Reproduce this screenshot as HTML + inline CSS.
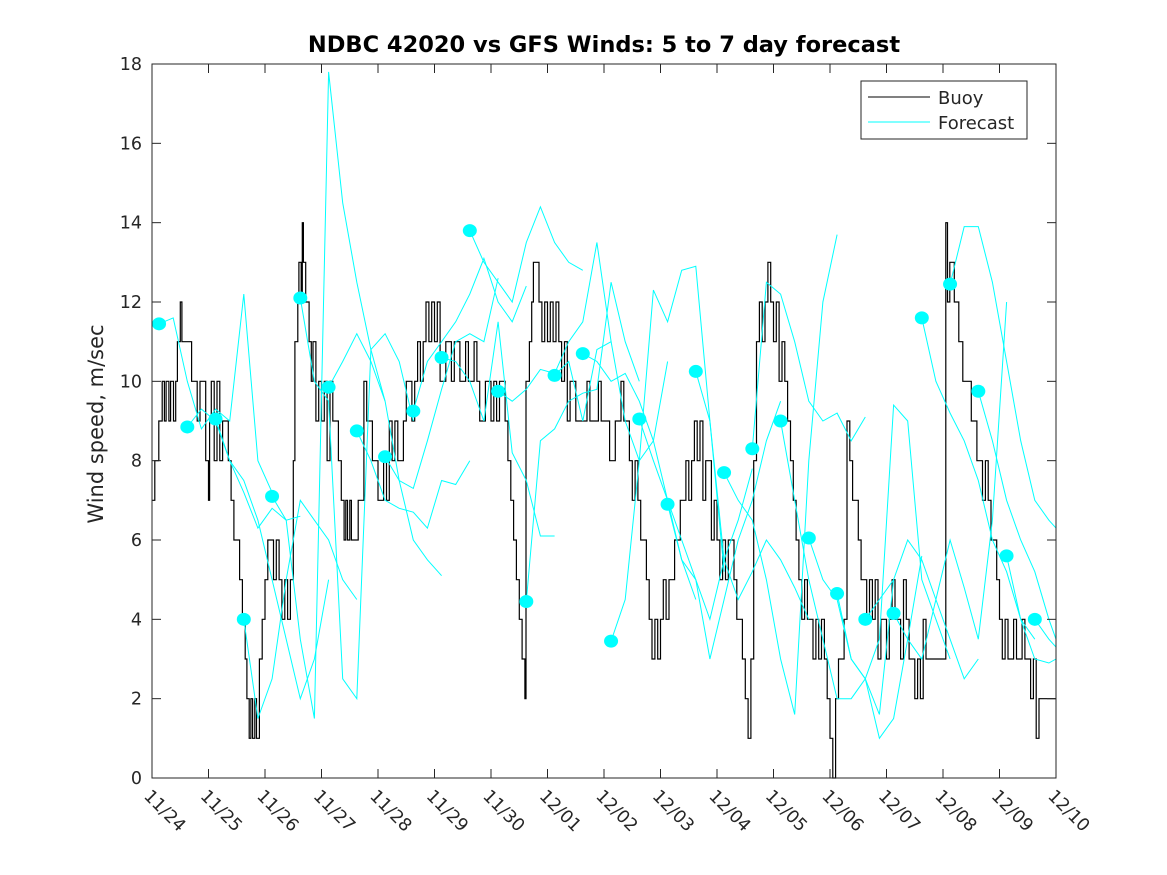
<!DOCTYPE html>
<html><head><meta charset="utf-8"><style>
body{margin:0;background:#fff;}
svg{display:block;font-family:"DejaVu Sans","Liberation Sans",sans-serif;}
</style></head><body>
<svg id="chart" width="1167" height="875" viewBox="0 0 1167 875" xmlns="http://www.w3.org/2000/svg">
<rect width="1167" height="875" fill="#fff"/>
<text x="604" y="52" text-anchor="middle" font-size="22.5" font-weight="bold" fill="#000">NDBC 42020 vs GFS Winds: 5 to 7 day forecast</text>
<text transform="translate(103,424) rotate(-90)" text-anchor="middle" font-size="21" fill="#262626">Wind speed, m/sec</text>
<g id="plot"></g>
<g id="axes"></g>
<g>
<rect x="861" y="81" width="166" height="58" fill="#fff" stroke="#262626" stroke-width="1"/>
<line x1="868" y1="97" x2="930" y2="97" stroke="#000" stroke-width="1"/>
<text x="938" y="104" font-size="18" fill="#262626">Buoy</text>
<line x1="868" y1="122" x2="930" y2="122" stroke="#00ffff" stroke-width="1"/>
<text x="938" y="129" font-size="18" fill="#262626">Forecast</text>
</g>
</svg>
<script>
const xTickLabels=["11/24","11/25","11/26","11/27","11/28","11/29","11/30","12/01","12/02","12/03","12/04","12/05","12/06","12/07","12/08","12/09","12/10"];
const yTicks=[0,2,4,6,8,10,12,14,16,18];
const buoyT=[0,.05,.12,.18,.22,.25,.3,.33,.38,.42,.45,.5,.53,.6,.7,.8,.85,.95,1.0,1.02,1.05,1.1,1.15,1.2,1.25,1.35,1.4,1.45,1.55,1.6,1.65,1.68,1.72,1.75,1.78,1.82,1.85,1.9,1.95,2.0,2.05,2.15,2.2,2.25,2.3,2.35,2.4,2.45,2.5,2.53,2.58,2.6,2.64,2.66,2.68,2.72,2.78,2.82,2.85,2.9,2.95,3.0,3.05,3.1,3.15,3.2,3.3,3.35,3.4,3.43,3.46,3.5,3.53,3.6,3.65,3.7,3.75,3.8,3.9,4.0,4.1,4.15,4.2,4.25,4.3,4.35,4.45,4.5,4.6,4.65,4.7,4.75,4.8,4.85,4.9,4.95,5.0,5.05,5.1,5.2,5.3,5.35,5.45,5.55,5.6,5.7,5.75,5.8,5.9,6.0,6.05,6.1,6.15,6.25,6.3,6.35,6.4,6.45,6.5,6.55,6.6,6.62,6.68,6.72,6.75,6.85,6.9,6.95,7.0,7.05,7.1,7.15,7.2,7.25,7.3,7.35,7.4,7.5,7.7,7.75,7.9,7.95,8.1,8.2,8.3,8.35,8.45,8.5,8.55,8.6,8.65,8.75,8.8,8.85,8.9,8.95,9.0,9.05,9.1,9.15,9.25,9.35,9.45,9.5,9.55,9.6,9.65,9.7,9.75,9.8,9.9,9.95,10.0,10.05,10.1,10.15,10.2,10.3,10.35,10.45,10.5,10.55,10.6,10.65,10.7,10.75,10.8,10.85,10.9,10.95,11.0,11.05,11.1,11.15,11.2,11.25,11.3,11.35,11.4,11.45,11.5,11.55,11.6,11.7,11.75,11.8,11.85,11.9,11.95,12.0,12.05,12.1,12.15,12.25,12.3,12.35,12.4,12.5,12.55,12.65,12.7,12.75,12.8,12.85,12.9,13.0,13.05,13.1,13.15,13.25,13.3,13.35,13.4,13.5,13.55,13.6,13.65,13.7,14.05,14.08,14.12,14.2,14.28,14.35,14.5,14.6,14.7,14.75,14.8,14.85,14.95,15.0,15.05,15.1,15.15,15.25,15.3,15.4,15.45,15.55,15.6,15.65,15.7,16.0];
const buoyV=[7,8,9,10,9,10,9,10,9,10,11,12,11,11,10,9,10,8,7,9,10,8,10,8,9,8,7,6,5,4,3,2,1,2,1,2,1,3,4,5,6,5,6,5,4,5,4,5,8,11,12,13,12,14,13,12,11,10,11,9,10,9,10,8,10,9,8,7,6,7,6,7,6,6,7,7,10,9,8,7,8,7,9,8,9,8,9,10,9,10,11,10,11,12,11,12,11,12,10,11,10,11,10,11,10,11,10,9,10,9,10,9,10,9,8,7,6,5,4,3,2,10,11,12,13,12,11,12,11,12,11,12,11,10,11,9,10,9,10,9,10,9,8,9,10,9,8,7,8,7,6,5,4,3,4,3,4,5,4,5,6,7,8,7,8,9,8,9,7,8,6,7,6,5,6,5,6,5,4,3,2,1,3,8,11,12,11,12,13,12,11,12,10,11,10,9,8,7,6,5,4,5,4,3,4,3,4,3,2,1,0,2,3,4,9,8,7,6,5,4,5,4,5,3,4,3,4,5,4,3,5,4,3,2,3,2,4,3,14,12,13,12,11,10,9,8,7,8,7,6,5,4,3,4,3,4,3,4,3,2,3,1,2,2];
const fcStart=[0.125,0.625,1.125,1.625,2.125,2.625,3.125,3.625,4.125,4.625,5.125,5.625,6.125,6.625,7.125,7.625,8.125,8.625,9.125,9.625,10.125,10.625,11.125,11.625,12.125,12.625,13.125,13.625,14.125,14.625,15.125,15.625];
const fcVals=[
[11.45,11.6,10.0,8.8,9.3,9.0,12.2,8.0,7.2],
[8.85,9.3,9.0,8.0,7.2,6.3,6.8,6.5,6.6],
[9.05,8.0,7.5,6.5,5.0,3.5,2.0,3.0,5.0],
[4.0,1.5,2.5,5.0,7.0,6.5,6.0,5.0,4.5],
[7.1,6.5,3.5,1.5,17.8,14.5,12.5,10.8,9.5],
[12.1,10.0,9.5,2.5,2.0,10.8,11.2,10.5,9.0],
[9.85,10.5,11.2,10.5,9.5,7.5,6.0,5.5,5.1],
[8.75,8.0,7.0,6.8,6.7,6.3,7.5,7.4,8.0],
[8.1,7.5,7.3,8.5,9.8,11.0,11.2,11.0,12.6],
[9.25,10.5,11.0,11.5,12.2,13.1,12.0,11.5,12.4],
[10.6,10.5,10.0,9.0,11.5,8.2,7.5,6.1,6.1],
[13.8,13.0,12.5,12.0,13.5,14.4,13.5,13.0,12.8],
[9.75,9.5,9.8,10.3,10.2,11.0,11.5,13.5,11.0],
[4.45,8.5,8.8,9.5,9.7,9.8,12.5,11.0,10.0],
[10.15,10.5,9.0,10.8,11.0,9.0,8.0,8.5,10.5],
[10.7,10.5,10.0,10.2,9.5,8.5,7.0,5.5,4.5],
[3.45,4.5,8.0,12.3,11.5,12.8,12.9,9.0,5.2],
[9.05,8.0,7.0,6.0,5.0,4.0,5.5,6.5,7.8],
[6.9,5.5,5.0,3.0,4.5,6.0,7.0,8.5,9.5],
[10.25,9.0,5.5,4.5,5.2,6.0,5.5,4.8,4.0],
[7.7,7.0,6.5,5.0,3.0,1.6,8.0,12.0,13.7],
[8.3,12.5,12.2,11.0,9.5,9.0,9.2,8.5,9.1],
[9.0,7.0,5.0,3.5,2.0,2.0,2.5,1.6,5.0],
[6.05,5.0,4.5,3.0,2.5,1.0,1.5,3.5,5.6],
[4.65,3.0,2.5,3.5,9.4,9.0,5.0,4.0,3.0],
[4.0,4.5,5.0,6.0,5.5,4.5,3.5,2.5,3.0],
[4.15,3.5,3.0,4.5,6.0,4.8,3.5,6.5,12.0],
[11.6,10.0,9.2,8.5,7.5,6.0,5.2,4.0,3.5],
[12.45,13.9,13.9,12.5,10.5,8.5,7.0,6.5,6.3],
[9.75,8.5,7.0,6.0,5.2,4.0,3.5,2.8,2.8],
[5.6,4.0,3.0,2.9,3.0,3.5,3.2,4.5],
[4.0,3.5,3.3,4.5,5.6]
];
const X0=152,X1=1056,Y0=778,Y1=64,DAYS=16,VMAX=18;
function xs(d){return X0+(X1-X0)*d/DAYS;}
function ys(v){return Y0-(Y0-Y1)*v/VMAX;}
const NS="http://www.w3.org/2000/svg";
const plot=document.getElementById('plot'),axes=document.getElementById('axes');
function mk(tag,attrs,parent){const e=document.createElementNS(NS,tag);for(const k in attrs)e.setAttribute(k,attrs[k]);parent.appendChild(e);return e;}
const fr=mk('rect',{x:X0,y:Y1,width:X1-X0,height:Y0-Y1,fill:'none',stroke:'#262626','stroke-width':1},axes);


let d='';
for(let i=0;i<buoyT.length;i++){
  const x=xs(buoyT[i]).toFixed(1),y=ys(buoyV[i]).toFixed(1);
  if(i===0)d+='M'+x+','+y;else d+='H'+x+'V'+y;
}
d+='H'+xs(DAYS).toFixed(1);
const bl=mk('path',{d:d,fill:'none',stroke:'#000','stroke-width':1.2},plot);


for(let k=0;k<fcStart.length;k++){
  const vals=fcVals[k];let p='';
  for(let i=0;i<vals.length;i++){
    const t=Math.min(fcStart[k]+0.25*i,DAYS);
    p+=(i?'L':'M')+xs(t).toFixed(1)+','+ys(vals[i]).toFixed(1);
  }
  const fl=mk('path',{d:p,fill:'none',stroke:'#00ffff','stroke-width':1},plot);
  
  
}
for(let k=0;k<fcStart.length;k++){
  const c=mk('ellipse',{cx:xs(fcStart[k]),cy:ys(fcVals[k][0]),rx:7,ry:6.5,fill:'#00ffff'},plot);
  
  
}
yTicks.forEach(v=>{
  const y=ys(v);
  mk('line',{x1:X0,y1:y,x2:X0+9,y2:y,stroke:'#262626'},axes);
  mk('line',{x1:X1,y1:y,x2:X1-9,y2:y,stroke:'#262626'},axes);
  const t=mk('text',{x:X0-10,y:y+6,'text-anchor':'end','font-size':17.5,fill:'#262626'},axes);
  t.textContent=v;
  
  
});
xTickLabels.forEach((lab,i)=>{
  const x=xs(i);
  mk('line',{x1:x,y1:Y0,x2:x,y2:Y0-9,stroke:'#262626'},axes);
  mk('line',{x1:x,y1:Y1,x2:x,y2:Y1+9,stroke:'#262626'},axes);
  const t=mk('text',{x:0,y:0,transform:'translate('+(x-9)+','+(797)+') rotate(45)','font-size':17.5,fill:'#262626'},axes);
  t.textContent=lab;
  
  
});
</script>
</body></html>
